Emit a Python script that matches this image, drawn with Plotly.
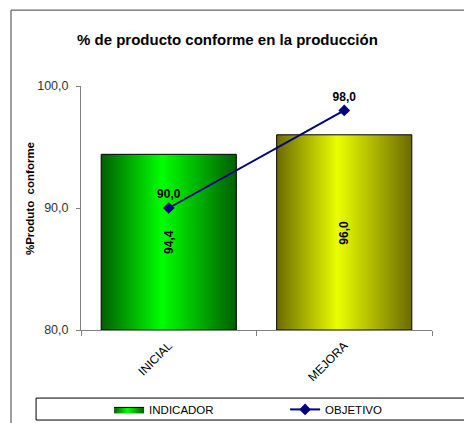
import plotly.graph_objects as go

# Data
categories = ["INICIAL", "MEJORA"]
indicador = [94.4, 96.0]
objetivo = [90.0, 98.0]
y_ticks = [80.0, 90.0, 100.0]

Y_MIN, Y_MAX = 80.0, 100.0
BAR_W = 0.77
FONT = "Arial, Liberation Sans, sans-serif"

bar_scales = [
    [[0, "#005f00"], [0.45, "#00ff00"], [1, "#005f00"]],
    [[0, "#6b6b00"], [0.45, "#eaff00"], [1, "#6b6b00"]],
]


def fmt(v):
    return f"{v:.1f}".replace(".", ",")


fig = go.Figure()

# Bars drawn as filled polygons so each can carry a horizontal gradient
for i, (cat, v) in enumerate(zip(categories, indicador)):
    x0, x1 = i - BAR_W / 2, i + BAR_W / 2
    fig.add_trace(go.Scatter(
        x=[x0, x1, x1, x0, x0],
        y=[Y_MIN, Y_MIN, v, v, Y_MIN],
        mode="lines",
        fill="toself",
        fillgradient=dict(type="horizontal", colorscale=bar_scales[i]),
        line=dict(color="#000000", width=1),
        name="INDICADOR",
        legendgroup="ind",
        showlegend=(i == 0),
        hoverinfo="skip",
    ))
    # value label, rotated, centred in the bar
    fig.add_annotation(
        x=i, y=(Y_MIN + v) / 2, xref="x", yref="y",
        text=f"<b>{fmt(v)}</b>", textangle=-90, showarrow=False,
        font=dict(family=FONT, size=12, color="#000000"),
    )

# Target line
fig.add_trace(go.Scatter(
    x=list(range(len(categories))),
    y=objetivo,
    mode="lines+markers+text",
    name="OBJETIVO",
    line=dict(color="#000080", width=2),
    marker=dict(symbol="diamond", size=9, color="#000080"),
    text=[f"<b>{fmt(v)}</b>" for v in objetivo],
    textposition="top center",
    textfont=dict(family=FONT, size=12, color="#000000"),
    hoverinfo="skip",
))

# Outer chart frame and legend frame
fig.add_shape(type="rect", xref="paper", yref="paper",
              x0=-0.1994, x1=1.3, y0=-0.6, y1=1.311,
              line=dict(color="#404040", width=1), fillcolor="rgba(0,0,0,0)",
              layer="below")
fig.add_shape(type="rect", xref="paper", yref="paper",
              x0=-0.128, x1=1.3, y0=-0.369, y1=-0.279,
              line=dict(color="#000000", width=1), fillcolor="rgba(0,0,0,0)",
              layer="below")

# Title and y-axis title
fig.add_annotation(
    xref="paper", yref="paper", x=0.416, y=1.19,
    xanchor="center", yanchor="middle",
    text="<b>% de producto conforme en la producción</b>",
    showarrow=False, font=dict(family=FONT, size=15, color="#000000"),
)
fig.add_annotation(
    xref="paper", yref="paper", x=-0.145, y=0.537,
    xanchor="center", yanchor="middle",
    text="<b>%Produto  conforme</b>", textangle=-90,
    showarrow=False, font=dict(family=FONT, size=11.5, color="#000000"),
)

fig.update_layout(
    width=464, height=423,
    margin=dict(l=81, r=32, t=86, b=93, autoexpand=False),
    paper_bgcolor="white", plot_bgcolor="white",
    separators=",.",
    font=dict(family=FONT, size=11, color="#000000"),
    showlegend=True,
    legend=dict(
        orientation="h", x=0.08, y=-0.266, xanchor="left", yanchor="top",
        entrywidth=131, bgcolor="rgba(0,0,0,0)",
        font=dict(family=FONT, size=11.5, color="#000000"),
        traceorder="normal",
    ),
    xaxis=dict(
        range=[-0.5, len(categories) - 0.5],
        tickvals=[k - 0.5 for k in range(len(categories) + 1)],
        ticktext=["" for _ in range(len(categories) + 1)],
        ticks="outside", ticklen=5, tickcolor="#808080",
        showline=True, linecolor="#808080", linewidth=1,
        showgrid=False, zeroline=False, automargin=False,
    ),
    xaxis2=dict(
        overlaying="x", matches="x", anchor="y", side="bottom",
        tickvals=list(range(len(categories))), ticktext=categories,
        tickangle=-45, ticks="outside", ticklen=3,
        tickcolor="rgba(0,0,0,0)",
        showline=False, showgrid=False, zeroline=False, automargin=False,
        tickfont=dict(family=FONT, size=12, color="#000000"),
    ),
    yaxis=dict(
        range=[Y_MIN, Y_MAX], tickvals=y_ticks, tickformat=".1f",
        ticks="outside", ticklen=4, tickcolor="#808080",
        ticklabelstandoff=5,
        showline=True, linecolor="#808080", linewidth=1,
        showgrid=False, zeroline=False, automargin=False,
        tickfont=dict(family=FONT, size=12.5, color="#333333"),
    ),
)

# give the x2 axis something to anchor to
fig.add_trace(go.Scatter(x=[0], y=[Y_MIN], xaxis="x2", mode="markers",
                         marker=dict(opacity=0), showlegend=False,
                         hoverinfo="skip"))

fig.write_html("out.html")
